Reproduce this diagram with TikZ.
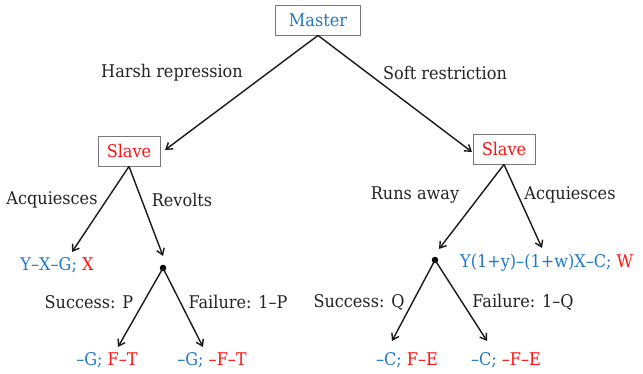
\documentclass[tikz,border=0pt]{standalone}
\usepackage{fontspec}
\setmainfont[FakeStretch=0.92]{DejaVu Serif}
\usetikzlibrary{arrows.meta}
\definecolor{mblue}{RGB}{30,120,205}
\definecolor{mred}{RGB}{250,20,20}
\definecolor{boxgray}{RGB}{120,120,120}
\definecolor{txtgray}{RGB}{35,35,35}
\tikzset{
  x=1pt, y=-1pt,
  every node/.style={font=\fontsize{17.5}{21}\selectfont, text=txtgray, inner sep=0pt},
  player/.style={draw=boxgray, line width=0.9pt, fill=white, minimum height=30pt, inner xsep=6pt},
  edge/.style={line width=1.4pt, draw=black!90, -{Straight Barb[length=6pt,width=8pt,line width=1.4pt]}},
  chance/.style={circle, fill=black, minimum size=6.5pt, inner sep=0pt},
  lab/.style={anchor=center},
}
\begin{document}
\begin{tikzpicture}
\useasboundingbox (0,0) rectangle (643,374);
% players
\node[player, minimum width=85pt] (master) at (318,20) {\textcolor{mblue}{Master}};
\node[player, minimum width=62pt] (slaveL) at (129,151) {\textcolor{mred}{Slave}};
\node[player, minimum width=62pt] (slaveR) at (504,149) {\textcolor{mred}{Slave}};
% chance nodes
\node[chance] (dotL) at (163,268) {};
\node[chance] (dotR) at (435,260) {};
% leaves
\node (leaf1) at (57,265) {\textcolor{mblue}{Y–X–G;} \textcolor{mred}{X}};
\node (leaf2) at (107,360) {\textcolor{mblue}{–G;} \textcolor{mred}{F–T}};
\node (leaf3) at (212,360) {\textcolor{mblue}{–G;} \textcolor{mred}{–F–T}};
\node[anchor=west] (leaf4) at (460,263) {\textcolor{mblue}{Y(1+y)–(1+w)X–C;} \textcolor{mred}{W}};
\node (leaf5) at (407,360) {\textcolor{mblue}{–C;} \textcolor{mred}{F–E}};
\node (leaf6) at (506,360) {\textcolor{mblue}{–C;} \textcolor{mred}{–F–E}};
% arrow end points
\coordinate (tSL) at (165,150);
\coordinate (tSR) at (472,152);
\coordinate (t1) at (72,252);
\coordinate (tDL) at (163,256);
\coordinate (t2) at (118,347);
\coordinate (t3) at (203,347);
\coordinate (tDR) at (439,249);
\coordinate (t4) at (542,248);
\coordinate (t5) at (392,341);
\coordinate (t6) at (487,341);
% connectors
\draw[edge] (master.south) -- (tSL);
\draw[edge] (master.south) -- (tSR);
\draw[edge] (slaveL.south) -- (t1);
\draw[edge] (slaveL.south) -- (tDL);
\draw[edge] (dotL.center) -- (t2);
\draw[edge] (dotL.center) -- (t3);
\draw[edge] (slaveR.south) -- (tDR);
\draw[edge] (slaveR.south) -- (t4);
\draw[edge] (dotR.center) -- (t5);
\draw[edge] (dotR.center) -- (t6);
% labels
\node[lab] (l1) at (172,73) {Harsh repression};
\node[lab] (l2) at (445,73) {Soft restriction};
\node[lab] (l3) at (52,200) {Acquiesces};
\node[lab] (l4) at (182,200) {Revolts};
\node[lab] (l5) at (415,195) {Runs away};
\node[lab] (l6) at (570,195) {Acquiesces};
\node[lab] (l7) at (89,302) {Success: P};
\node[lab] (l8) at (238,302) {Failure: 1–P};
\node[lab] (l9) at (359,302) {Success: Q};
\node[lab] (l10) at (523,302) {Failure: 1–Q};
\end{tikzpicture}
\end{document}
